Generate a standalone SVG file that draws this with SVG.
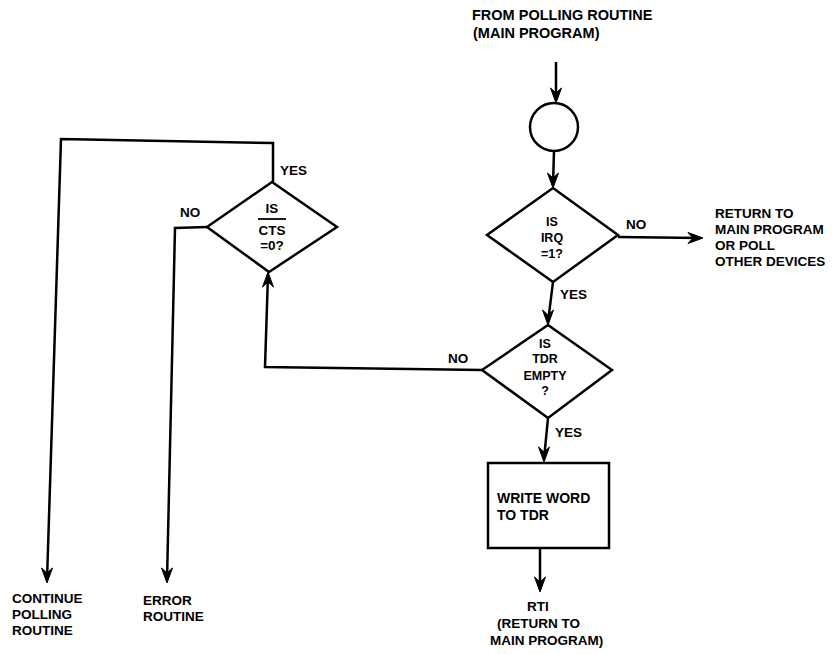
<svg xmlns="http://www.w3.org/2000/svg" xmlns:xlink="http://www.w3.org/1999/xlink" width="832" height="654" viewBox="0 0 832 654">
<defs>
<path id="arr" d="M0,0 L-5.5,-15 L0,-10 L5.5,-15 Z" fill="#000" stroke="#000" stroke-width="1" stroke-linejoin="miter"/>
</defs>
<style>
.t{font-family:"Liberation Sans",Arial,sans-serif;font-weight:bold;font-size:13.5px;fill:#000}
.sm{font-size:12.5px}
.c{text-anchor:middle}
.w{fill:#fff;stroke:#000;stroke-width:2.5;stroke-linejoin:miter}
.l{fill:none;stroke:#000;stroke-width:2.5;stroke-linejoin:miter}
</style>
<rect width="832" height="654" fill="#fff"/>
<g id="connectors">
<path class="l" d="M556,62 V100"/>
<use href="#arr" xlink:href="#arr" transform="translate(556,103)"/>
<path class="l" d="M554,151 L553,185"/>
<use href="#arr" xlink:href="#arr" transform="translate(553,188)"/>
<path class="l" d="M618,237 L700,238"/>
<use href="#arr" xlink:href="#arr" transform="translate(703,238) rotate(-90)"/>
<path class="l" d="M553,282 L548,322"/>
<use href="#arr" xlink:href="#arr" transform="translate(548,325)"/>
<path class="l" d="M482,370 L265,367 L268,275"/>
<use href="#arr" xlink:href="#arr" transform="translate(268,272) rotate(180)"/>
<path class="l" d="M273,182 V143 L61,139 L47,580"/>
<use href="#arr" xlink:href="#arr" transform="translate(47,583)"/>
<path class="l" d="M207,227 L175,228 L167,580"/>
<use href="#arr" xlink:href="#arr" transform="translate(167,583)"/>
<path class="l" d="M548,418 L544,459"/>
<use href="#arr" xlink:href="#arr" transform="translate(544,462)"/>
<path class="l" d="M540,548 V589"/>
<use href="#arr" xlink:href="#arr" transform="translate(540,592)"/>
</g>
<g id="start-label">
<text class="t" x="472" y="20" style="font-size:14.5px">FROM POLLING ROUTINE</text>
<text class="t" x="473" y="38" style="font-size:14.5px">(MAIN PROGRAM)</text>
</g>
<g id="connector-node">
<circle class="w" cx="554" cy="127" r="24"/>
</g>
<g id="irq-decision">
<path class="w" d="M553,188 L618,235 L553,282 L487,235 Z"/>
<text class="t sm c" x="552" y="226">IS</text>
<text class="t sm c" x="552" y="242">IRQ</text>
<text class="t sm c" x="552" y="258">=1?</text>
<text class="t" x="626" y="229">NO</text>
<text class="t" x="560" y="299">YES</text>
</g>
<g id="return-label">
<text class="t" x="715" y="218">RETURN TO</text>
<text class="t" x="715" y="234">MAIN PROGRAM</text>
<text class="t" x="715" y="250">OR POLL</text>
<text class="t" x="715" y="266">OTHER DEVICES</text>
</g>
<g id="tdr-decision">
<path class="w" d="M548,325 L612,370 L548,418 L482,370 Z"/>
<text class="t sm c" x="545" y="348">IS</text>
<text class="t sm c" x="545" y="363">TDR</text>
<text class="t sm c" x="545" y="380">EMPTY</text>
<text class="t sm c" x="545" y="395">?</text>
<text class="t" x="448" y="363">NO</text>
<text class="t" x="555" y="437">YES</text>
</g>
<g id="cts-decision">
<path class="w" d="M272,182 L337,227 L269,272 L207,227 Z"/>
<text class="t c" x="272" y="213">IS</text>
<line x1="258" y1="219" x2="286" y2="219" stroke="#000" stroke-width="1.8"/>
<text class="t c" x="272" y="235">CTS</text>
<text class="t c" x="272" y="250">=0?</text>
<text class="t" x="280" y="175">YES</text>
<text class="t" x="180" y="217">NO</text>
</g>
<g id="write-box">
<rect class="w" x="488" y="463" width="121" height="85"/>
<text class="t" x="497" y="503" style="font-size:14px">WRITE WORD</text>
<text class="t" x="497" y="520" style="font-size:14px">TO TDR</text>
</g>
<g id="rti-label">
<text class="t" x="527" y="611">RTI</text>
<text class="t" x="497" y="628">(RETURN TO</text>
<text class="t" x="490" y="645">MAIN PROGRAM)</text>
</g>
<g id="continue-label">
<text class="t" x="12" y="603">CONTINUE</text>
<text class="t" x="12" y="619">POLLING</text>
<text class="t" x="12" y="635">ROUTINE</text>
</g>
<g id="error-label">
<text class="t" x="143" y="605">ERROR</text>
<text class="t" x="143" y="621">ROUTINE</text>
</g>
</svg>
